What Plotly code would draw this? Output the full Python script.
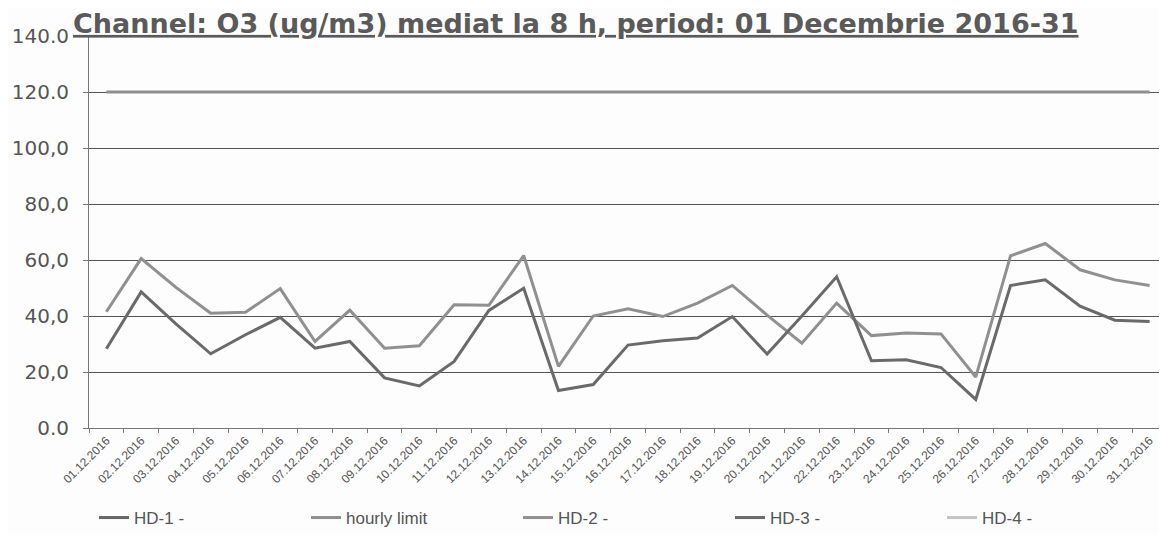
import plotly.graph_objects as go

dates = [f"{d:02d}.12.2016" for d in range(1, 32)]

hd2 = [41.5, 60.5, 50.2, 41.0, 41.3, 49.8, 30.9, 42.1, 28.5, 29.4,
       44.0, 43.8, 61.6, 22.0, 40.0, 42.6, 39.8, 44.6, 50.9, 40.3,
       30.3, 44.6, 33.0, 33.9, 33.6, 18.2, 61.5, 65.9, 56.5, 52.9, 50.9]
hd3 = [28.3, 48.6, 37.2, 26.5, 33.3, 39.5, 28.5, 30.9, 17.9, 15.0,
       23.8, 42.0, 49.9, 13.4, 15.5, 29.6, 31.2, 32.1, 39.8, 26.4,
       40.0, 54.0, 24.0, 24.4, 21.6, 10.2, 50.9, 52.9, 43.5, 38.5, 38.0]
hourly_limit = [120.0] * 31
hd1 = [None] * 31
hd4 = [None] * 31

y_ticks = [0, 20, 40, 60, 80, 100, 120, 140]
y_labels = ["0.0", "20,0", "40,0", "60,0", "80,0", "100,0", "120.0", "140.0"]

title_text = "Channel: O3 (ug/m3) mediat la 8 h, period: 01 Decembrie 2016-31"

W, H = 1159, 527  # page body has an 8px margin

fig = go.Figure()
fig.add_trace(go.Scatter(x=dates, y=hd1, name="HD-1 -", mode="lines",
                         line=dict(color="#666666", width=3)))
fig.add_trace(go.Scatter(x=dates, y=hourly_limit, name="hourly limit", mode="lines",
                         line=dict(color="#8f8f8f", width=3)))
fig.add_trace(go.Scatter(x=dates, y=hd2, name="HD-2 -", mode="lines",
                         line=dict(color="#909090", width=3)))
fig.add_trace(go.Scatter(x=dates, y=hd3, name="HD-3 -", mode="lines",
                         line=dict(color="#6a6a6a", width=3)))
fig.add_trace(go.Scatter(x=dates, y=hd4, name="HD-4 -", mode="lines",
                         line=dict(color="#c4c4c4", width=3)))

fig.update_layout(
    width=W, height=H,
    margin=dict(l=81, r=0, t=28, b=107, autoexpand=False),
    paper_bgcolor="#fdfdfd", plot_bgcolor="#fdfdfd",
    font=dict(family="Arial, Liberation Sans, sans-serif", color="#555555"),
    title=dict(text="<b><u>" + title_text + "</u></b>",
               font=dict(family="DejaVu Sans", size=27, color="#5a5a5a"),
               x=65 / W, xanchor="left", y=1 - 6 / H, yanchor="top",
               xref="container", yref="container", pad=dict(t=0, b=0, l=0, r=0)),
    showlegend=True,
    legend=dict(orientation="h", x=86 / W, xanchor="left", xref="container",
                y=1 - 510 / H, yanchor="middle", yref="container",
                font=dict(size=17, color="#555555"), entrywidth=167, entrywidthmode="pixels",
                bgcolor="rgba(0,0,0,0)"),
    xaxis=dict(type="category", range=[-0.5, 30.5], tickangle=-45, automargin=False,
               tickfont=dict(size=12, color="#555555"),
               showgrid=False, showline=True, linecolor="#777777", linewidth=1,
               ticks="outside", ticklen=4, tickcolor="#777777", tickson="boundaries"),
    yaxis=dict(range=[0, 140], tickvals=y_ticks, ticktext=y_labels, automargin=False,
               tickfont=dict(family="DejaVu Sans", size=20, color="#555555"),
               ticklabelstandoff=10,
               showgrid=True, gridcolor="#555555", gridwidth=1,
               showline=True, linecolor="#777777", linewidth=1,
               ticks="outside", ticklen=5, tickcolor="#777777", zeroline=False),
)

fig.write_html("out.html")
